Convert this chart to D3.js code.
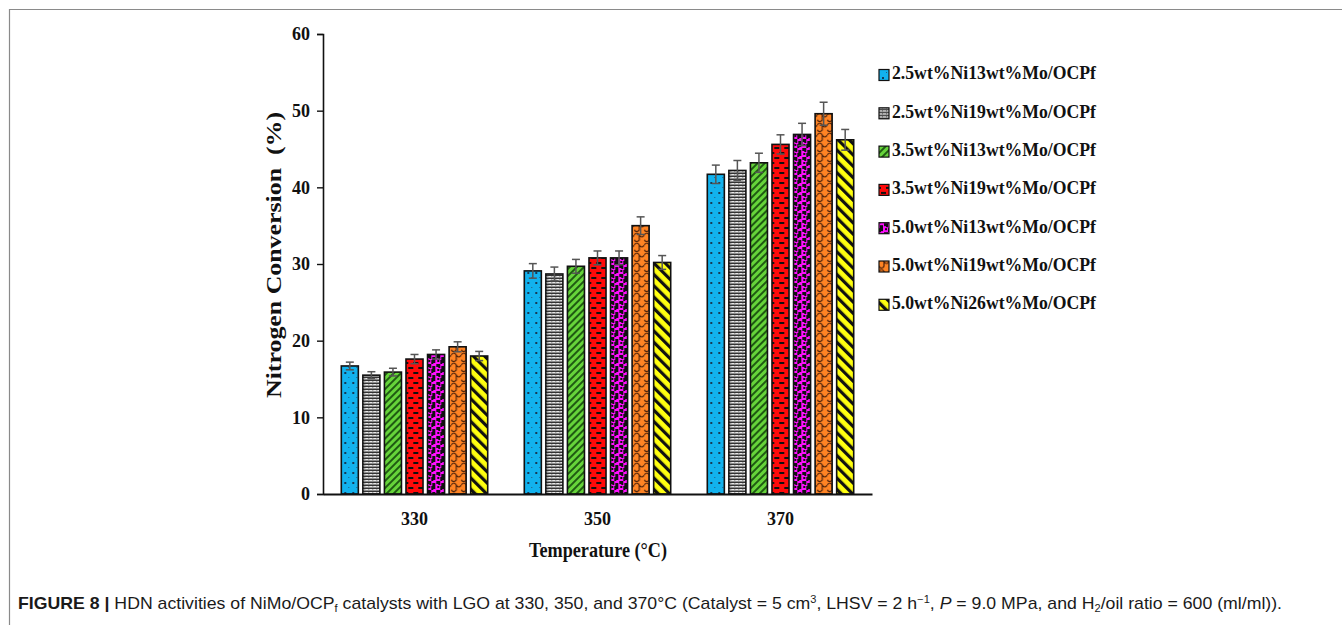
<!DOCTYPE html>
<html>
<head>
<meta charset="utf-8">
<script src="https://cdn.jsdelivr.net/npm/d3@7"></script>
<style>
  body { margin: 0; background: #fff; }
  svg { display: block; }
</style>
</head>
<body>
<script>
// temperatures on the x axis
var temps = ["330", "350", "370"];

var catalysts = [
  "2.5wt%Ni13wt%Mo/OCPf",
  "2.5wt%Ni19wt%Mo/OCPf",
  "3.5wt%Ni13wt%Mo/OCPf",
  "3.5wt%Ni19wt%Mo/OCPf",
  "5.0wt%Ni13wt%Mo/OCPf",
  "5.0wt%Ni19wt%Mo/OCPf",
  "5.0wt%Ni26wt%Mo/OCPf"
];

// nitrogen conversion (%), one array per catalyst, values at 330/350/370
var cat1 = [16.7, 29.1, 41.7];
var cat2 = [15.5, 28.7, 42.2];
var cat3 = [15.9, 29.7, 43.2];
var cat4 = [17.6, 30.8, 45.6];
var cat5 = [18.2, 30.8, 46.9];
var cat6 = [19.2, 35.0, 49.6];
var cat7 = [18.0, 30.2, 46.2];

// error bar half-widths
var err1 = [0.5, 0.95, 1.2];
var err2 = [0.45, 0.9, 1.3];
var err3 = [0.5, 0.9, 1.25];
var err4 = [0.6, 0.9, 1.25];
var err5 = [0.6, 0.9, 1.45];
var err6 = [0.65, 1.15, 1.5];
var err7 = [0.6, 0.9, 1.35];

var yTicks = [0, 10, 20, 30, 40, 50, 60];

var values = [cat1, cat2, cat3, cat4, cat5, cat6, cat7];
var errors = [err1, err2, err3, err4, err5, err6, err7];

var W = 1342, H = 625;
var svg = d3.select("body").append("svg").attr("width", W).attr("height", H);

// figure frame (top and left rule)
svg.append("line").attr("x1", 9).attr("y1", 9.5).attr("x2", W).attr("y2", 9.5)
  .attr("stroke", "#8a8a8a").attr("stroke-width", 1.2);
svg.append("line").attr("x1", 9.5).attr("y1", 9).attr("x2", 9.5).attr("y2", H)
  .attr("stroke", "#8a8a8a").attr("stroke-width", 1.2);

// ---- fill patterns ----
var defs = svg.append("defs");

function pat(id, w, h, bg) {
  var p = defs.append("pattern").attr("id", id)
    .attr("patternUnits", "userSpaceOnUse").attr("width", w).attr("height", h);
  p.append("rect").attr("width", w).attr("height", h).attr("fill", bg);
  return p;
}

// blue dots
var p1 = pat("p1", 8, 10, "#12b2ee");
p1.append("rect").attr("x", 3).attr("y", 2).attr("width", 2).attr("height", 2).attr("fill", "#163a55");
p1.append("rect").attr("x", 7).attr("y", 7).attr("width", 1).attr("height", 1).attr("fill", "#2a5a7a");

// gray fine grid
var p2 = pat("p2", 4, 3, "#8c8c8c");
p2.append("rect").attr("x", 0).attr("y", 0).attr("width", 3).attr("height", 1).attr("fill", "#e8e8e8");
p2.append("rect").attr("x", 0).attr("y", 2).attr("width", 4).attr("height", 1).attr("fill", "#333");

// green diagonal stripes "\"
var p3 = pat("p3", 5, 5, "#66d43a");
p3.attr("patternTransform", "rotate(45)");
p3.append("rect").attr("x", 0).attr("y", 0).attr("width", 2).attr("height", 5).attr("fill", "#1f5a12");

// red brick dashes
var p4 = pat("p4", 10, 10, "#ff0a0a");
p4.append("rect").attr("x", 2).attr("y", 2).attr("width", 5).attr("height", 2).attr("fill", "#111");
p4.append("rect").attr("x", 7).attr("y", 7).attr("width", 5).attr("height", 2).attr("fill", "#111");
p4.append("rect").attr("x", -3).attr("y", 7).attr("width", 5).attr("height", 2).attr("fill", "#111");

// magenta blotches
var p5 = pat("p5", 9, 9, "#ff10ff");
p5.append("path").attr("d", "M0,0h4v3h-2v1h-2z M5,4h4v4h-2v-1h-2z M1,6h3v3h-3z M6,0h2v2h-2z").attr("fill", "#111");

// orange wavy scales
var p6 = pat("p6", 10, 10, "#ff8424");
p6.append("path").attr("d", "M0,5 Q2.5,1 5,5 T10,5 M5,0 Q7.5,-4 10,0 M-5,10 Q-2.5,6 0,10 T5,10 M0,0 Q2.5,3 5,0 M5,5 L5,10")
  .attr("fill", "none").attr("stroke", "#4a200a").attr("stroke-width", 1.2);

// yellow thick stripes "/"
var p7 = pat("p7", 8, 8, "#ffff10");
p7.attr("patternTransform", "rotate(-45)");
p7.append("rect").attr("x", 0).attr("y", 0).attr("width", 3.2).attr("height", 8).attr("fill", "#111");

var fills = ["url(#p1)", "url(#p2)", "url(#p3)", "url(#p4)", "url(#p5)", "url(#p6)", "url(#p7)"];

// ---- scales ----
var x0 = d3.scaleBand().domain(temps).range([323, 872]).paddingInner(0.2).paddingOuter(0.1);
var x1 = d3.scaleBand().domain(d3.range(catalysts.length)).range([0, x0.bandwidth()]).paddingInner(0.21);
var y = d3.scaleLinear().domain([0, 60]).range([494, 34]);

var serif = "'Liberation Serif', 'Times New Roman', serif";

// bars
var groups = svg.append("g").selectAll("g").data(temps).enter().append("g")
  .attr("transform", function(d) { return "translate(" + x0(d) + ",0)"; });

groups.each(function(t, ti) {
  var g = d3.select(this);
  catalysts.forEach(function(c, ci) {
    var v = values[ci][ti], e = errors[ci][ti];
    var bx = x1(ci), bw = x1.bandwidth();
    g.append("rect")
      .attr("x", bx).attr("y", y(v))
      .attr("width", bw).attr("height", y(0) - y(v))
      .attr("fill", fills[ci]).attr("stroke", "#111").attr("stroke-width", 1.6);
    var cx = bx + bw / 2;
    g.append("line").attr("x1", cx).attr("x2", cx).attr("y1", y(v + e)).attr("y2", y(v - e))
      .attr("stroke", "#555").attr("stroke-width", 1.5);
    [v + e, v - e].forEach(function(yy) {
      g.append("line").attr("x1", cx - 4).attr("x2", cx + 4).attr("y1", y(yy)).attr("y2", y(yy))
        .attr("stroke", "#555").attr("stroke-width", 1.5);
    });
  });
});

// y axis
var yAxis = svg.append("g").attr("transform", "translate(323,0)")
  .call(d3.axisLeft(y).tickValues(yTicks).tickSize(6).tickPadding(7));
yAxis.select(".domain").attr("stroke", "#111").attr("stroke-width", 1.6);
yAxis.selectAll(".tick line").attr("stroke", "#111").attr("stroke-width", 1.4);
yAxis.selectAll("text").style("font-family", serif).style("font-weight", "bold")
  .style("font-size", "18px").attr("fill", "#111");

// x axis
var xAxis = svg.append("g").attr("transform", "translate(0,494)")
  .call(d3.axisBottom(x0).tickSize(0).tickPadding(18));
xAxis.select(".domain").attr("stroke", "#111").attr("stroke-width", 2);
xAxis.selectAll("text").style("font-family", serif).style("font-weight", "bold")
  .style("font-size", "18px").attr("fill", "#111");

// axis titles
svg.append("text").attr("transform", "translate(276,255) rotate(-90)")
  .attr("text-anchor", "middle").attr("dominant-baseline", "middle")
  .attr("textLength", 286).attr("lengthAdjust", "spacingAndGlyphs")
  .style("font-family", serif).style("font-weight", "bold").style("font-size", "21px")
  .style("white-space", "pre").attr("fill", "#111")
  .text("Nitrogen Conversion  (%)");

svg.append("text").attr("x", 598).attr("y", 557).attr("text-anchor", "middle")
  .attr("textLength", 138).attr("lengthAdjust", "spacingAndGlyphs")
  .style("font-family", serif).style("font-weight", "bold").style("font-size", "22px")
  .attr("fill", "#111").text("Temperature (\u00B0C)");

// legend
var legend = svg.append("g").attr("transform", "translate(879,75)");
catalysts.forEach(function(c, i) {
  var row = legend.append("g").attr("transform", "translate(0," + (i * 38.3) + ")");
  row.append("rect").attr("x", 0).attr("y", -5.5).attr("width", 10).attr("height", 11)
    .attr("fill", fills[i]).attr("stroke", "#111").attr("stroke-width", 1.2);
  row.append("text").attr("x", 13).attr("y", 0).attr("dominant-baseline", "middle")
    .attr("textLength", 204).attr("lengthAdjust", "spacingAndGlyphs")
    .style("font-family", serif).style("font-weight", "bold").style("font-size", "19px")
    .attr("fill", "#111").text(c);
});

// caption
var cap = svg.append("text").attr("x", 0).attr("y", 0)
  .style("font-family", "'Liberation Sans', Arial, sans-serif").style("font-size", "16px")
  .attr("fill", "#1a1a1a");
cap.append("tspan").style("font-weight", "bold").text("FIGURE 8 | ");
cap.append("tspan").text("HDN activities of NiMo/OCP");
cap.append("tspan").attr("font-size", "10px").attr("dy", 3).text("f");
cap.append("tspan").attr("dy", -3).text(" catalysts with LGO at 330, 350, and 370\u00B0C (Catalyst = 5 cm");
cap.append("tspan").attr("font-size", "10px").attr("dy", -6).text("3");
cap.append("tspan").attr("dy", 6).text(", LHSV = 2 h");
cap.append("tspan").attr("font-size", "10px").attr("dy", -6).text("\u22121");
cap.append("tspan").attr("dy", 6).text(", ");
cap.append("tspan").style("font-style", "italic").text("P");
cap.append("tspan").text(" = 9.0 MPa, and H");
cap.append("tspan").attr("font-size", "10px").attr("dy", 3).text("2");
cap.append("tspan").attr("dy", -3).text("/oil ratio = 600 (ml/ml)).");
var cw = cap.node().getComputedTextLength();
cap.attr("transform", "translate(18,609) scale(" + (1265 / cw) + ",1)");
</script>
</body>
</html>
